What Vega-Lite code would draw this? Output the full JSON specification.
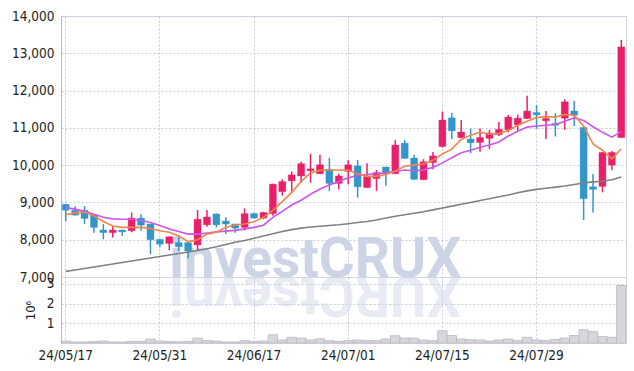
{
  "$schema": "https://vega.github.io/schema/vega-lite/v6.json",
  "autosize": {"type": "pad"},
  "padding": {"left": 11, "top": 8, "right": 5, "bottom": 5},
  "bounds": "flush",
  "spacing": 0,
  "config": {
    "font": "DejaVu Sans Condensed, sans-serif",
    "view": {"stroke": "#d6d6de"},
    "axis": {
      "labelFont": "DejaVu Sans Condensed, sans-serif",
      "titleFont": "DejaVu Sans Condensed, sans-serif",
      "labelFontSize": 13.5,
      "labelColor": "#222222",
      "labelOverlap": false,
      "gridColor": "#c5c8dc",
      "gridDash": [2, 2],
      "gridWidth": 1,
      "domainColor": "#b8b8c4",
      "ticks": false,
      "labelPadding": 7
    }
  },
  "datasets": {
    "p": [
      {"d": "24/05/17", "o": 8950, "h": 8960, "l": 8500, "c": 8790, "m5": 8670, "m20": 8860, "m60": 7150, "v": 100000},
      {"d": "24/05/20", "o": 8790, "h": 8900, "l": 8650, "c": 8660, "m5": 8720, "m20": 8820, "m60": 7190, "v": 50000},
      {"d": "24/05/21", "o": 8790, "h": 8900, "l": 8420, "c": 8570, "m5": 8740, "m20": 8760, "m60": 7230, "v": 50000},
      {"d": "24/05/22", "o": 8660, "h": 8680, "l": 8190, "c": 8330, "m5": 8640, "m20": 8680, "m60": 7270, "v": 80000},
      {"d": "24/05/23", "o": 8260, "h": 8420, "l": 8010, "c": 8190, "m5": 8490, "m20": 8600, "m60": 7310, "v": 100000},
      {"d": "24/05/24", "o": 8190, "h": 8370, "l": 8060, "c": 8260, "m5": 8370, "m20": 8560, "m60": 7350, "v": 50000},
      {"d": "24/05/27", "o": 8260, "h": 8270, "l": 8100, "c": 8210, "m5": 8330, "m20": 8550, "m60": 7390, "v": 50000},
      {"d": "24/05/28", "o": 8240, "h": 8730, "l": 8200, "c": 8580, "m5": 8330, "m20": 8550, "m60": 7430, "v": 80000},
      {"d": "24/05/29", "o": 8580, "h": 8680, "l": 8240, "c": 8390, "m5": 8330, "m20": 8520, "m60": 7470, "v": 80000},
      {"d": "24/05/30", "o": 8420, "h": 8430, "l": 7610, "c": 8000, "m5": 8300, "m20": 8460, "m60": 7510, "v": 200000},
      {"d": "24/05/31", "o": 8010, "h": 8020, "l": 7800, "c": 7880, "m5": 8240, "m20": 8380, "m60": 7550, "v": 100000},
      {"d": "24/06/03", "o": 7900, "h": 8090, "l": 7720, "c": 8080, "m5": 8200, "m20": 8290, "m60": 7590, "v": 80000},
      {"d": "24/06/04", "o": 7920, "h": 8080, "l": 7700, "c": 7810, "m5": 8100, "m20": 8220, "m60": 7630, "v": 60000},
      {"d": "24/06/05", "o": 7920, "h": 7950, "l": 7500, "c": 7700, "m5": 7950, "m20": 8150, "m60": 7670, "v": 80000},
      {"d": "24/06/07", "o": 7860, "h": 8800, "l": 7700, "c": 8550, "m5": 8000, "m20": 8150, "m60": 7710, "v": 250000},
      {"d": "24/06/10", "o": 8400, "h": 8800, "l": 8350, "c": 8610, "m5": 8150, "m20": 8180, "m60": 7760, "v": 120000},
      {"d": "24/06/11", "o": 8690, "h": 8710, "l": 8330, "c": 8400, "m5": 8200, "m20": 8210, "m60": 7810, "v": 100000},
      {"d": "24/06/12", "o": 8500, "h": 8600, "l": 8150, "c": 8420, "m5": 8330, "m20": 8230, "m60": 7870, "v": 50000},
      {"d": "24/06/13", "o": 8420, "h": 8430, "l": 8190, "c": 8310, "m5": 8400, "m20": 8250, "m60": 7930, "v": 50000},
      {"d": "24/06/14", "o": 8330, "h": 8840, "l": 8250, "c": 8700, "m5": 8420, "m20": 8290, "m60": 7980, "v": 120000},
      {"d": "24/06/17", "o": 8700, "h": 8720, "l": 8570, "c": 8580, "m5": 8480, "m20": 8330, "m60": 8040, "v": 70000},
      {"d": "24/06/18", "o": 8580, "h": 8750, "l": 8560, "c": 8730, "m5": 8600, "m20": 8390, "m60": 8100, "v": 100000},
      {"d": "24/06/19", "o": 8700, "h": 9500, "l": 8640, "c": 9490, "m5": 8790, "m20": 8600, "m60": 8160, "v": 420000},
      {"d": "24/06/20", "o": 9290, "h": 9620, "l": 9180, "c": 9560, "m5": 9020, "m20": 8760, "m60": 8220, "v": 150000},
      {"d": "24/06/21", "o": 9580, "h": 9830, "l": 9250, "c": 9740, "m5": 9270, "m20": 8930, "m60": 8270, "v": 290000},
      {"d": "24/06/24", "o": 9710, "h": 10090, "l": 9530, "c": 10040, "m5": 9560, "m20": 9060, "m60": 8310, "v": 250000},
      {"d": "24/06/25", "o": 9850, "h": 10300, "l": 9530, "c": 9900, "m5": 9790, "m20": 9220, "m60": 8340, "v": 150000},
      {"d": "24/06/26", "o": 9770, "h": 10280, "l": 9760, "c": 10010, "m5": 9860, "m20": 9360, "m60": 8360, "v": 220000},
      {"d": "24/06/27", "o": 9890, "h": 10200, "l": 9300, "c": 9510, "m5": 9870, "m20": 9470, "m60": 8380, "v": 120000},
      {"d": "24/06/28", "o": 9510, "h": 9770, "l": 9350, "c": 9710, "m5": 9870, "m20": 9560, "m60": 8400, "v": 80000},
      {"d": "24/07/01", "o": 9830, "h": 10130, "l": 9490, "c": 10010, "m5": 9860, "m20": 9660, "m60": 8430, "v": 120000},
      {"d": "24/07/02", "o": 9980, "h": 10140, "l": 9130, "c": 9420, "m5": 9770, "m20": 9720, "m60": 8460, "v": 150000},
      {"d": "24/07/03", "o": 9400, "h": 10050, "l": 9390, "c": 9690, "m5": 9700, "m20": 9750, "m60": 8490, "v": 120000},
      {"d": "24/07/04", "o": 9640, "h": 9870, "l": 9310, "c": 9800, "m5": 9700, "m20": 9770, "m60": 8530, "v": 120000},
      {"d": "24/07/05", "o": 9950, "h": 9960, "l": 9450, "c": 9770, "m5": 9750, "m20": 9800, "m60": 8580, "v": 200000},
      {"d": "24/07/08", "o": 9770, "h": 10670, "l": 9760, "c": 10540, "m5": 9840, "m20": 9830, "m60": 8630, "v": 370000},
      {"d": "24/07/09", "o": 10590, "h": 10670, "l": 10170, "c": 10180, "m5": 9970, "m20": 9870, "m60": 8670, "v": 250000},
      {"d": "24/07/10", "o": 10190, "h": 10270, "l": 9600, "c": 9620, "m5": 10000, "m20": 9850, "m60": 8710, "v": 250000},
      {"d": "24/07/11", "o": 9610, "h": 10160, "l": 9600, "c": 10090, "m5": 10030, "m20": 9870, "m60": 8750, "v": 150000},
      {"d": "24/07/12", "o": 10070, "h": 10350, "l": 9890, "c": 10250, "m5": 10130, "m20": 9940, "m60": 8800, "v": 120000},
      {"d": "24/07/15", "o": 10500, "h": 11440, "l": 10470, "c": 11210, "m5": 10300, "m20": 10060, "m60": 8850, "v": 620000},
      {"d": "24/07/16", "o": 11270, "h": 11400, "l": 10700, "c": 10920, "m5": 10430, "m20": 10200, "m60": 8900, "v": 380000},
      {"d": "24/07/17", "o": 10740, "h": 11210, "l": 10730, "c": 10890, "m5": 10690, "m20": 10330, "m60": 8950, "v": 200000},
      {"d": "24/07/18", "o": 10700, "h": 10980, "l": 10320, "c": 10600, "m5": 10800, "m20": 10400, "m60": 9000, "v": 170000},
      {"d": "24/07/19", "o": 10610, "h": 10980, "l": 10360, "c": 10740, "m5": 10890, "m20": 10480, "m60": 9050, "v": 150000},
      {"d": "24/07/22", "o": 10720, "h": 10940, "l": 10430, "c": 10860, "m5": 10830, "m20": 10540, "m60": 9100, "v": 100000},
      {"d": "24/07/23", "o": 10820, "h": 11160, "l": 10780, "c": 10960, "m5": 10850, "m20": 10620, "m60": 9150, "v": 150000},
      {"d": "24/07/24", "o": 10950, "h": 11350, "l": 10880, "c": 11290, "m5": 10930, "m20": 10780, "m60": 9200, "v": 200000},
      {"d": "24/07/25", "o": 11080, "h": 11350, "l": 10920, "c": 11260, "m5": 11070, "m20": 10910, "m60": 9260, "v": 120000},
      {"d": "24/07/26", "o": 11250, "h": 11860, "l": 11240, "c": 11450, "m5": 11180, "m20": 11020, "m60": 9310, "v": 290000},
      {"d": "24/07/29", "o": 11410, "h": 11610, "l": 10980, "c": 11350, "m5": 11280, "m20": 11050, "m60": 9350, "v": 150000},
      {"d": "24/07/30", "o": 11190, "h": 11450, "l": 10700, "c": 11250, "m5": 11300, "m20": 11070, "m60": 9380, "v": 120000},
      {"d": "24/07/31", "o": 11120, "h": 11390, "l": 10770, "c": 11070, "m5": 11290, "m20": 11090, "m60": 9410, "v": 180000},
      {"d": "24/08/01", "o": 11260, "h": 11770, "l": 10950, "c": 11700, "m5": 11360, "m20": 11180, "m60": 9440, "v": 250000},
      {"d": "24/08/02", "o": 11450, "h": 11720, "l": 11050, "c": 11340, "m5": 11340, "m20": 11270, "m60": 9480, "v": 380000},
      {"d": "24/08/05", "o": 11010, "h": 11050, "l": 8530, "c": 9100, "m5": 11050, "m20": 11200, "m60": 9520, "v": 670000},
      {"d": "24/08/06", "o": 9420, "h": 9760, "l": 8730, "c": 9350, "m5": 10570, "m20": 11030, "m60": 9550, "v": 580000},
      {"d": "24/08/07", "o": 9430, "h": 10350, "l": 9270, "c": 10340, "m5": 10400, "m20": 10880, "m60": 9570, "v": 330000},
      {"d": "24/08/08", "o": 10000, "h": 10380, "l": 9870, "c": 10340, "m5": 10170, "m20": 10750, "m60": 9610, "v": 290000},
      {"d": "24/08/09", "o": 10740, "h": 13360, "l": 10730, "c": 13170, "m5": 10440, "m20": 10900, "m60": 9680, "v": 2920000}
    ]
  },
  "vconcat": [
    {
      "width": 565,
      "height": 261,
      "data": {"name": "p"},
      "resolve": {"axis": {"x": "independent", "y": "independent"}},
      "layer": [
        {
          "data": {"values": [{"t": "investCRUX"}]},
          "mark": {"type": "text", "align": "left", "baseline": "alphabetic", "fontSize": 55, "fontWeight": "bold", "color": "#cdd4e6", "font": "Roboto, sans-serif"},
          "encoding": {
            "x": {"datum": "24/06/03", "type": "ordinal", "axis": null},
            "y": {"datum": 7000, "type": "quantitative", "axis": null},
            "text": {"field": "t"}
          }
        },
        {
          "mark": {"type": "rule", "strokeWidth": 1.5},
          "encoding": {
            "x": {
              "field": "d",
              "type": "ordinal",
              "scale": {"paddingInner": 0, "paddingOuter": 0},
              "axis": {
                "orient": "bottom",
                "values": ["24/05/17", "24/05/31", "24/06/17", "24/07/01", "24/07/15", "24/07/29"],
                "labels": false,
                "domain": false,
                "title": null,
                "grid": true,
                "labelOverlap": false,
                "minExtent": 0,
                "maxExtent": 0
              }
            },
            "y": {
              "field": "l",
              "type": "quantitative",
              "scale": {"domain": [7000, 14000], "nice": false, "zero": false},
              "axis": {"orient": "left", "values": [7000, 8000, 9000, 10000, 11000, 12000, 13000, 14000], "format": ",d", "title": null, "grid": true, "labelOverlap": false}
            },
            "y2": {"field": "h"},
            "color": {"condition": {"test": "datum.c >= datum.o", "value": "#e8206a"}, "value": "#3396c8"}
          }
        },
        {
          "mark": {"type": "bar", "size": 7, "strokeWidth": 1, "strokeOpacity": 0.35},
          "encoding": {
            "x": {"field": "d", "type": "ordinal", "axis": null},
            "y": {"field": "o", "type": "quantitative", "axis": null},
            "y2": {"field": "c"},
            "color": {"condition": {"test": "datum.c >= datum.o", "value": "#e8206a"}, "value": "#3396c8"},
            "stroke": {"condition": {"test": "datum.c >= datum.o", "value": "#e8206a"}, "value": "#3396c8"}
          }
        },
        {
          "mark": {"type": "line", "color": "#808080", "strokeWidth": 1.6},
          "encoding": {"x": {"field": "d", "type": "ordinal", "axis": null}, "y": {"field": "m60", "type": "quantitative", "axis": null}}
        },
        {
          "mark": {"type": "line", "color": "#cc55ec", "strokeWidth": 1.6},
          "encoding": {"x": {"field": "d", "type": "ordinal", "axis": null}, "y": {"field": "m20", "type": "quantitative", "axis": null}}
        },
        {
          "mark": {"type": "line", "color": "#f0844a", "strokeWidth": 1.6},
          "encoding": {"x": {"field": "d", "type": "ordinal", "axis": null}, "y": {"field": "m5", "type": "quantitative", "axis": null}}
        }
      ]
    },
    {
      "width": 565,
      "height": 66,
      "data": {"name": "p"},
      "resolve": {"axis": {"x": "independent", "y": "independent"}},
      "layer": [
        {
          "data": {"values": [{"t": "XURCtsevni"}]},
          "mark": {"type": "text", "align": "right", "baseline": "alphabetic", "angle": 180, "fontSize": 55, "fontWeight": "bold", "color": "#cdd4e6", "opacity": 0.45, "font": "Roboto, sans-serif"},
          "encoding": {
            "x": {"datum": "24/06/03", "type": "ordinal", "axis": null},
            "y": {"datum": 3350000, "type": "quantitative", "axis": null},
            "text": {"field": "t"}
          }
        },
        {
          "mark": {"type": "bar", "color": "#d6d6db", "stroke": "#b9b9c0", "strokeWidth": 0.8},
          "encoding": {
            "x": {
              "field": "d",
              "type": "ordinal",
              "scale": {"paddingInner": 0, "paddingOuter": 0},
              "axis": {
                "orient": "bottom",
                "values": ["24/05/17", "24/05/31", "24/06/17", "24/07/01", "24/07/15", "24/07/29"],
                "labelAngle": 0,
                "labelPadding": 5,
                "domain": false,
                "title": null,
                "grid": true,
                "labelOverlap": false
              }
            },
            "y": {
              "field": "v",
              "type": "quantitative",
              "scale": {"domain": [0, 3350000], "nice": false},
              "axis": {"orient": "left", "values": [1000000, 2000000, 3000000], "labelExpr": "datum.value / 1000000", "labelOverlap": false, "title": "10⁶", "titleFontSize": 13, "titleFontWeight": "normal", "titleColor": "#222222", "titlePadding": 9, "grid": true}
            }
          }
        }
      ]
    }
  ]
}
